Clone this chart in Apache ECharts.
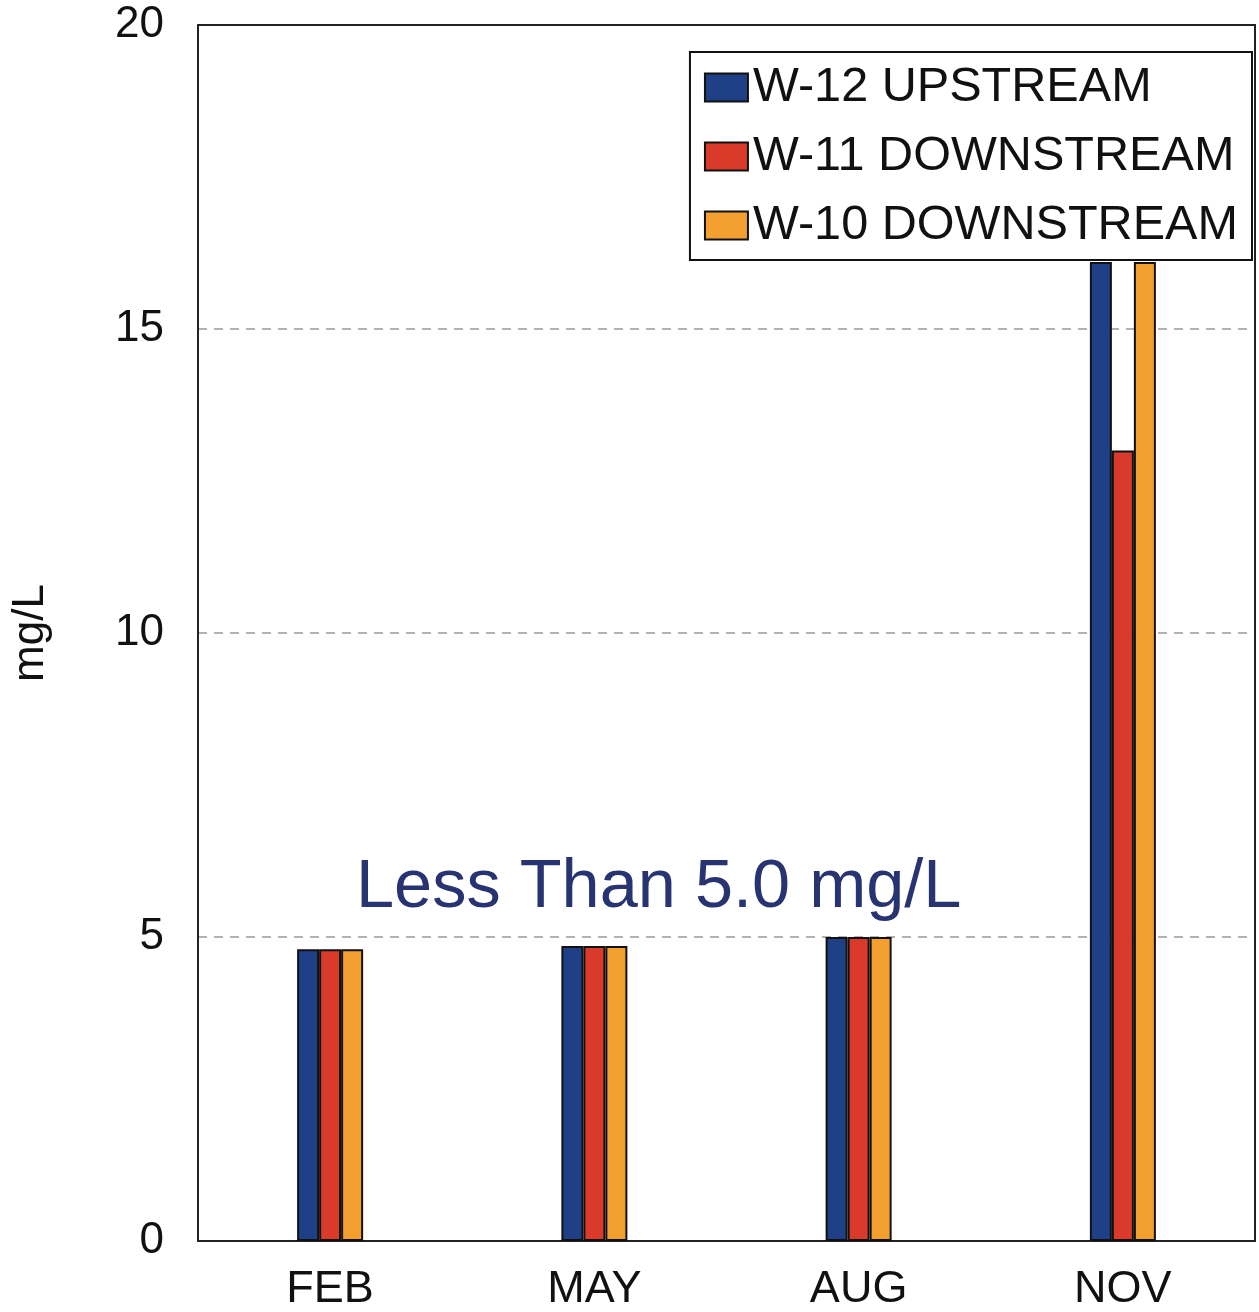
<!DOCTYPE html>
<html>
<head>
<meta charset="utf-8">
<script src="https://cdn.jsdelivr.net/npm/echarts@6/dist/echarts.min.js"></script>
<style>html,body{margin:0;padding:0;background:#fff;}#c{width:1259px;height:1312px;}</style>
</head>
<body>
<div id="c"></div>
<script>
const categories = ["FEB", "MAY", "AUG", "NOV"];
const seriesNames = ["W-12 UPSTREAM", "W-11 DOWNSTREAM", "W-10 DOWNSTREAM"];
const w12Upstream = [4.8, 4.85, 5.0, 16.1];
const w11Downstream = [4.8, 4.85, 5.0, 13.0];
const w10Downstream = [4.8, 4.85, 5.0, 16.1];
const yTicks = [0, 5, 10, 15, 20];
const annotationText = "Less Than 5.0 mg/L";
const yAxisName = "mg/L";

const colors = ["#1f3f86", "#d93a29", "#f4a030"];
const font = "'Liberation Sans', Arial, sans-serif";
const chart = echarts.init(document.getElementById('c'));
const dataSets = [w12Upstream, w11Downstream, w10Downstream];

chart.setOption({
  animation: false,
  backgroundColor: '#ffffff',
  grid: { left: 198, right: 4, top: 25, bottom: 68 },
  legend: {
    orient: 'vertical', right: 7, top: 52,
    data: seriesNames,
    itemWidth: 43, itemHeight: 28, itemGap: 20,
    borderColor: '#111', borderWidth: 2, backgroundColor: '#fff',
    padding: [11, 14, 10, 14],
    textStyle: { fontFamily: font, fontSize: 48.6, color: '#111', padding: [0, 0, 0, 0] },
    icon: 'rect'
  },
  xAxis: [{
    type: 'category', data: categories,
    axisLine: { onZero: false, lineStyle: { color: '#222', width: 2 } },
    axisTick: { show: false },
    axisLabel: { fontFamily: font, fontSize: 45, color: '#111', margin: 26 }
  }, {
    type: 'category', data: categories, position: 'top', z: 10,
    axisLine: { show: true, onZero: false, lineStyle: { color: '#222', width: 2 } },
    axisTick: { show: false }, axisLabel: { show: false }, splitLine: { show: false }
  }],
  yAxis: [{
    type: 'value', min: 0, max: 20, interval: 5,
    name: yAxisName, nameLocation: 'middle', nameGap: 145, nameRotate: 90,
    nameTextStyle: { fontFamily: font, fontSize: 44, color: '#111' },
    axisLine: { show: true, onZero: false, lineStyle: { color: '#222', width: 2 } },
    axisTick: { show: false },
    axisLabel: { fontFamily: font, fontSize: 44, color: '#111', margin: 34,
      formatter: v => yTicks.includes(v) ? String(v) : '' },
    splitLine: { show: true, lineStyle: { color: '#999', type: [9, 7], width: 1.5 } }
  }, {
    type: 'value', min: 0, max: 20, interval: 5, position: 'right', z: 10,
    axisLine: { show: true, onZero: false, lineStyle: { color: '#222', width: 2 } },
    axisTick: { show: false }, axisLabel: { show: false }, splitLine: { show: false }
  }],
  graphic: [{
    type: 'text', x: 356, y: 888,
    style: { text: annotationText, fontFamily: font, fontSize: 68.5, fill: '#283472', verticalAlign: 'middle', align: 'left' }
  }],
  series: seriesNames.map((n, i) => ({
    name: n, type: 'bar', data: dataSets[i],
    barWidth: 22, barGap: '0%',
    itemStyle: { color: colors[i], borderColor: '#111', borderWidth: 2 }
  }))
});
</script>
</body>
</html>
